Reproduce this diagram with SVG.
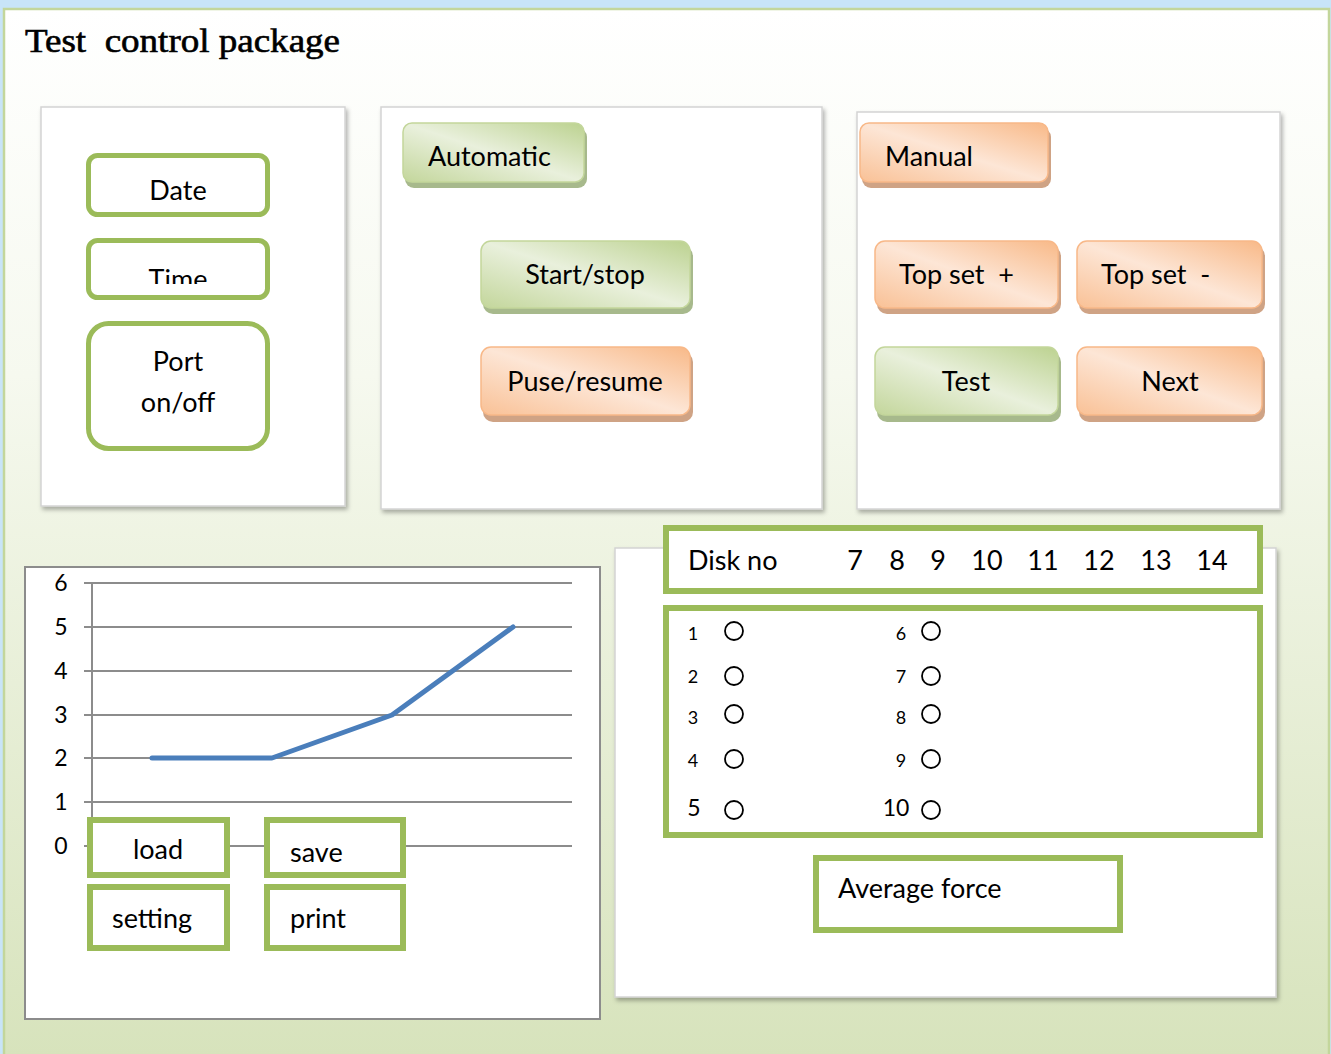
<svg xmlns="http://www.w3.org/2000/svg" width="1331" height="1054" viewBox="0 0 1331 1054">
<defs>
  <linearGradient id="bg" x1="0" y1="0" x2="0" y2="1">
    <stop offset="0" stop-color="#ffffff"/>
    <stop offset="0.35" stop-color="#f6f9ef"/>
    <stop offset="1" stop-color="#d7e3bc"/>
  </linearGradient>
  <linearGradient id="gGreen" x1="1" y1="0" x2="0" y2="1">
    <stop offset="0" stop-color="#bcd290"/>
    <stop offset="0.5" stop-color="#e9f0dc"/>
    <stop offset="1" stop-color="#c3d69b"/>
  </linearGradient>
  <linearGradient id="gOrange" x1="1" y1="0" x2="0" y2="1">
    <stop offset="0" stop-color="#f8b988"/>
    <stop offset="0.5" stop-color="#fde6d6"/>
    <stop offset="1" stop-color="#f9c196"/>
  </linearGradient>
  <filter id="sh" x="-5%" y="-5%" width="110%" height="110%">
    <feDropShadow dx="2" dy="3" stdDeviation="2" flood-color="#000" flood-opacity="0.3"/>
  </filter>
  <clipPath id="timeClip"><rect x="90" y="242" width="176" height="42"/></clipPath>
</defs>
<style>
  text { white-space: pre; }
  .panel { fill: #ffffff; stroke: #d4d4d4; stroke-width: 1.5; filter: url(#sh); }
  .gbox { fill: #ffffff; stroke: #9bbb59; stroke-width: 5; }
  .sbox { fill: #ffffff; stroke: #9bbb59; stroke-width: 6; }
  .btnG { fill: url(#gGreen); stroke: #c3d69b; stroke-width: 1.5; }
  .btnO { fill: url(#gOrange); stroke: #f8b888; stroke-width: 1.5; }
  .shG { fill: #a7b98c; }
  .shO { fill: #cfa385; }
  .t { font-family: Lato, "Open Sans", "Liberation Sans", sans-serif; font-size: 27px; fill: #000; }
  .tc { text-anchor: middle; }
  .ax { font-family: Lato, "Liberation Sans", sans-serif; font-size: 23px; fill: #000; text-anchor: middle; }
  .sm { font-family: Lato, "Liberation Sans", sans-serif; font-size: 18px; fill: #000; text-anchor: middle; }
  .grid { stroke: #8c8c8c; stroke-width: 2; fill: none; }
  .rad { fill: none; stroke: #000; stroke-width: 1.8; }
</style>

<!-- background -->
<rect x="0" y="0" width="1331" height="1054" fill="#c8e4f8"/>
<rect x="4" y="9" width="1325" height="1047" fill="url(#bg)" stroke="#c3d69b" stroke-width="2.5"/>

<text x="25" y="52" font-family="'Liberation Serif', serif" font-size="33" fill="#000" stroke="#000" stroke-width="0.6" textLength="315" lengthAdjust="spacingAndGlyphs">Test  control package</text>

<!-- panels -->
<g id="panel-left"><rect class="panel" x="41" y="107" width="304" height="399"/></g>
<g id="panel-auto"><rect class="panel" x="381" y="107" width="441" height="402"/></g>
<g id="panel-manual"><rect class="panel" x="857" y="112" width="423" height="397"/></g>
<g id="panel-disk"><rect class="panel" x="615" y="548" width="661" height="449"/></g>
<g id="panel-chart"><rect x="25" y="567" width="575" height="452" fill="#ffffff" stroke="#8c8c8c" stroke-width="2"/></g>

<!-- left panel buttons -->
<g id="date"><rect class="gbox" x="88.5" y="155.5" width="179" height="59" rx="9"/><text class="t tc" x="178" y="200">Date</text></g>
<g id="time"><rect class="gbox" x="88.5" y="240.5" width="179" height="57" rx="9"/><text class="t tc" x="178" y="289" clip-path="url(#timeClip)">Time</text></g>
<g id="port"><rect class="gbox" x="88.5" y="323.5" width="179" height="125" rx="20"/><text class="t tc" x="178" y="371">Port</text><text class="t tc" x="178" y="412">on/off</text></g>

<!-- automatic panel -->
<g id="automatic"><rect class="shG" x="405" y="128" width="182" height="60" rx="9"/><rect class="btnG" x="403" y="123" width="181" height="59" rx="9"/><text class="t" x="428" y="166">Automatic</text></g>
<g id="startstop"><rect class="shG" x="483" y="246" width="210" height="68" rx="10"/><rect class="btnG" x="481" y="241" width="209" height="67" rx="10"/><text class="t tc" x="585" y="284">Start/stop</text></g>
<g id="puse"><rect class="shO" x="483" y="352" width="210" height="70" rx="10"/><rect class="btnO" x="481" y="347" width="209" height="68" rx="10"/><text class="t tc" x="585" y="391">Puse/resume</text></g>

<!-- manual panel -->
<g id="manual"><rect class="shO" x="862" y="128" width="189" height="60" rx="9"/><rect class="btnO" x="860" y="123" width="188" height="59" rx="9"/><text class="t" x="885" y="166">Manual</text></g>
<g id="topset-plus"><rect class="shO" x="877" y="246" width="184" height="68" rx="10"/><rect class="btnO" x="875" y="241" width="183" height="67" rx="10"/><text class="t" x="899" y="284">Top set  +</text></g>
<g id="topset-minus"><rect class="shO" x="1079" y="246" width="186" height="68" rx="10"/><rect class="btnO" x="1077" y="241" width="185" height="67" rx="10"/><text class="t" x="1101" y="284">Top set  -</text></g>
<g id="test"><rect class="shG" x="877" y="352" width="184" height="70" rx="10"/><rect class="btnG" x="875" y="347" width="183" height="68" rx="10"/><text class="t tc" x="966" y="391">Test</text></g>
<g id="next"><rect class="shO" x="1079" y="352" width="186" height="70" rx="10"/><rect class="btnO" x="1077" y="347" width="185" height="68" rx="10"/><text class="t tc" x="1170" y="391">Next</text></g>

<!-- chart -->
<g id="chart">
  <path class="grid" d="M84 583H572M84 627H572M84 671H572M84 715H572M84 758H572M84 802H572M84 846H572M92 583V846"/>
  <text class="ax" x="61" y="591">6</text>
  <text class="ax" x="61" y="635">5</text>
  <text class="ax" x="61" y="679">4</text>
  <text class="ax" x="61" y="723">3</text>
  <text class="ax" x="61" y="766">2</text>
  <text class="ax" x="61" y="810">1</text>
  <text class="ax" x="61" y="854">0</text>
  <polyline points="152,758 272,758 392,715 513,627" fill="none" stroke="#4a7ebb" stroke-width="5" stroke-linecap="round" stroke-linejoin="round"/>
</g>
<g id="load"><rect class="sbox" x="90" y="820" width="137" height="55"/><text class="t tc" x="158" y="859">load</text></g>
<g id="save"><rect class="sbox" x="267" y="820" width="136" height="55"/><text class="t" x="290" y="862">save</text></g>
<g id="setting"><rect class="sbox" x="90" y="887" width="137" height="61"/><text class="t" x="112" y="928">setting</text></g>
<g id="print"><rect class="sbox" x="267" y="887" width="136" height="61"/><text class="t" x="290" y="928">print</text></g>

<!-- disk panel -->
<g id="disk-no">
  <rect class="sbox" x="666" y="528" width="594" height="63"/>
  <text class="t" x="688" y="570">Disk no</text>
  <text class="t tc" x="855" y="570">7</text>
  <text class="t tc" x="897" y="570">8</text>
  <text class="t tc" x="938" y="570">9</text>
  <text class="t tc" x="987" y="570">10</text>
  <text class="t tc" x="1043" y="570">11</text>
  <text class="t tc" x="1099" y="570">12</text>
  <text class="t tc" x="1156" y="570">13</text>
  <text class="t tc" x="1212" y="570">14</text>
</g>
<g id="disk-list">
  <rect class="sbox" x="666" y="608" width="594" height="227"/>
  <text class="sm" x="693" y="640">1</text><circle class="rad" cx="734" cy="631" r="9"/>
  <text class="sm" x="693" y="683">2</text><circle class="rad" cx="734" cy="676" r="9"/>
  <text class="sm" x="693" y="724">3</text><circle class="rad" cx="734" cy="714" r="9"/>
  <text class="sm" x="693" y="767">4</text><circle class="rad" cx="734" cy="759" r="9"/>
  <text class="ax" x="694" y="816">5</text><circle class="rad" cx="734" cy="810" r="9"/>
  <text class="sm" x="901" y="640">6</text><circle class="rad" cx="931" cy="631" r="9"/>
  <text class="sm" x="901" y="683">7</text><circle class="rad" cx="931" cy="676" r="9"/>
  <text class="sm" x="901" y="724">8</text><circle class="rad" cx="931" cy="714" r="9"/>
  <text class="sm" x="901" y="767">9</text><circle class="rad" cx="931" cy="759" r="9"/>
  <text class="ax" x="896" y="816">10</text><circle class="rad" cx="931" cy="810" r="9"/>
</g>
<g id="average-force"><rect class="sbox" x="816" y="858" width="304" height="72"/><text class="t" x="838" y="898">Average force</text></g>

<g id="connectors"></g>
</svg>
